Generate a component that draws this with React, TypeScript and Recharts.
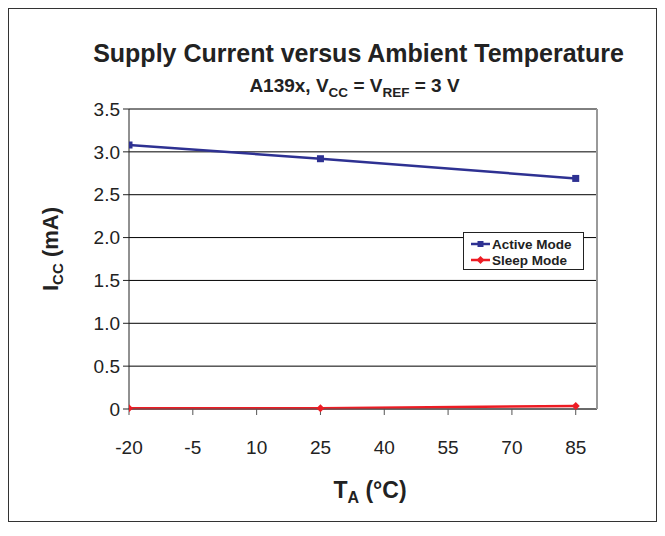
import React from 'react';
import {
  CartesianGrid,
  Line,
  LineChart,
  XAxis,
  YAxis
} from 'recharts';

// temperature points (°C)
const temps = [-20, 25, 85];
// supply current, mA
const activeMode = [3.08, 2.92, 2.69];
const sleepMode = [0.01, 0.01, 0.035];

const xTicks = [-20, -5, 10, 25, 40, 55, 70, 85];
const yTicks = [0, 0.5, 1.0, 1.5, 2.0, 2.5, 3.0, 3.5];

const data = temps.map((t, i) => ({
  temp: t,
  active: activeMode[i],
  sleep: sleepMode[i]
}));

const BLUE = '#2e3192';
const RED = '#ed1c24';
const FONT = '"Liberation Sans", Arial, sans-serif';

const Square = (props: any) => {
  const { cx, cy } = props;
  if (cx == null || cy == null) return null;
  return <rect x={cx - 3.5} y={cy - 3.5} width={7} height={7} fill={BLUE} />;
};

const Diamond = (props: any) => {
  const { cx, cy } = props;
  if (cx == null || cy == null) return null;
  return (
    <polygon
      points={`${cx},${cy - 4} ${cx + 4},${cy} ${cx},${cy + 4} ${cx - 4},${cy}`}
      fill={RED}
    />
  );
};

const legendItems = [
  { name: 'Active Mode', color: BLUE, shape: 'sq' },
  { name: 'Sleep Mode', color: RED, shape: 'dm' }
];

const LegendBox = () => (
  <div
    style={{
      position: 'absolute',
      left: 454,
      top: 223,
      border: '1px solid #222',
      background: '#fff',
      width: 121,
      height: 38,
      padding: '3px 0 0 7px',
      boxSizing: 'border-box',
      fontWeight: 'bold',
      fontSize: 13.5,
      color: '#222'
    }}
  >
    {legendItems.map((it) => (
      <div key={it.name} style={{ display: 'flex', alignItems: 'center', height: 16 }}>
        <svg width={19} height={10} style={{ marginRight: 2 }}>
          <line x1={0} y1={5} x2={19} y2={5} stroke={it.color} strokeWidth={2.5} />
          {it.shape === 'sq' ? (
            <rect x={6.5} y={2} width={6} height={6} fill={it.color} />
          ) : (
            <polygon points="9.5,1 13.5,5 9.5,9 5.5,5" fill={it.color} />
          )}
        </svg>
        <span>{it.name}</span>
      </div>
    ))}
  </div>
);

const yFmt = (v: number) => (v === 0 ? '0' : v.toFixed(1));

const App = () => {
  return (
    <div
      style={{
        position: 'relative',
        width: 649,
        height: 514,
        border: '1px solid #333',
        boxSizing: 'border-box',
        fontFamily: FONT,
        background: '#fff'
      }}
    >
      <div
        style={{
          position: 'absolute',
          top: 30,
          left: -3,
          width: 705,
          textAlign: 'center',
          fontWeight: 'bold',
          fontSize: 25,
          color: '#222'
        }}
      >
        Supply Current versus Ambient Temperature
      </div>
      <div
        style={{
          position: 'absolute',
          top: 66,
          left: -7,
          width: 705,
          textAlign: 'center',
          fontWeight: 'bold',
          fontSize: 19,
          color: '#222'
        }}
      >
        A139x, V<sub style={{ fontSize: 13.5 }}>CC</sub> = V<sub style={{ fontSize: 13.5 }}>REF</sub> = 3 V
      </div>
      <div
        style={{
          position: 'absolute',
          left: 43,
          top: 240,
          transform: 'translate(-50%, -50%) rotate(-90deg)',
          whiteSpace: 'nowrap',
          fontWeight: 'bold',
          fontSize: 22,
          color: '#222'
        }}
      >
        I<sub style={{ fontSize: 15 }}>CC</sub> (mA)
      </div>
      <div
        style={{
          position: 'absolute',
          left: 361,
          top: 483,
          transform: 'translate(-50%, -50%)',
          whiteSpace: 'nowrap',
          fontWeight: 'bold',
          fontSize: 23,
          color: '#222'
        }}
      >
        T<sub style={{ fontSize: 16 }}>A</sub> (°C)
      </div>
      <LineChart
        width={647}
        height={512}
        data={data}
        margin={{ top: 100, right: 59, left: 0, bottom: 0 }}
        style={{ position: 'absolute', top: 0, left: 0 }}
      >
        <CartesianGrid horizontal={true} vertical={false} stroke="#000" strokeWidth={1} />
        <XAxis
          dataKey="temp"
          type="number"
          domain={[-20, 90]}
          ticks={xTicks}
          height={112}
          stroke="#555"
          tickSize={6}
          tick={{ fill: '#222', fontSize: 19, fontFamily: FONT, dy: 24 }}
          allowDataOverflow
        />
        <YAxis
          domain={[0, 3.5]}
          ticks={yTicks}
          width={120}
          stroke="#222"
          tickSize={6}
          tickFormatter={yFmt}
          tick={{ fill: '#222', fontSize: 19, fontFamily: FONT, dx: -1 }}
        />
        <Line
          type="linear"
          dataKey="active"
          name="Active Mode"
          stroke={BLUE}
          strokeWidth={2.5}
          dot={<Square />}
          activeDot={false}
          isAnimationActive={false}
        />
        <Line
          type="linear"
          dataKey="sleep"
          name="Sleep Mode"
          stroke={RED}
          strokeWidth={2.5}
          dot={<Diamond />}
          activeDot={false}
          isAnimationActive={false}
        />
      </LineChart>
      {/* plot area right border */}
      <div
        style={{
          position: 'absolute',
          left: 587,
          top: 100,
          width: 2,
          height: 300,
          background: '#999'
        }}
      />
      <LegendBox />
    </div>
  );
};

export default App;
